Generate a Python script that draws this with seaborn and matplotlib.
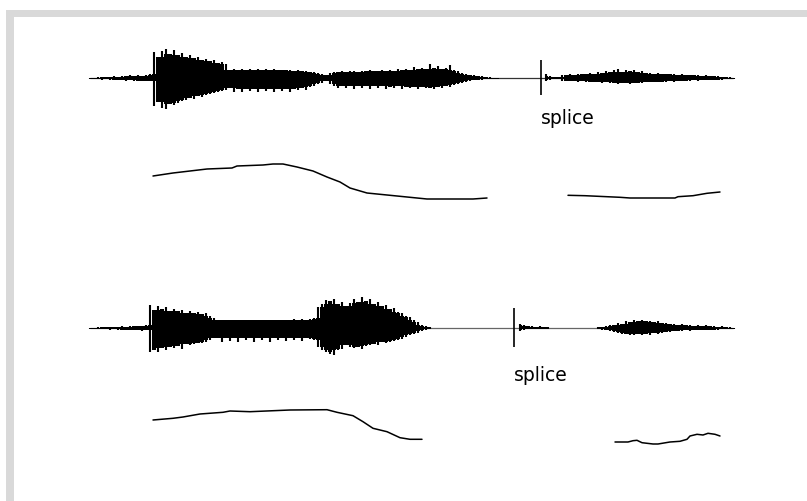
import numpy as np
import pandas as pd
import matplotlib
matplotlib.use("Agg")
import matplotlib.pyplot as plt
from matplotlib.patches import Rectangle
import seaborn as sns

# ---------------- data (time in ms, amplitude / pitch in relative units) ----------------
STEP = 4  # envelope sampling interval (ms)

# utterance 1, first part (starts at 0 ms)
w1a_start = 0
w1a_up = [.5, .5, 1, 1, 1.5, 1, 2, 1.5, 2.5, 2, 3, 2.5, 3, 2.5, 3.5, 4,
          26, 21, 27, 29, 24, 28, 23, 25, 21, 23, 20, 21, 18, 19, 17, 18, 15, 16, 14,
          8, 9, 8, 9, 8, 9, 8, 9, 8, 9, 8, 9, 8, 8, 8, 8, 7, 8, 7, 7, 6, 6, 5, 4, 3,
          5, 6, 6, 7, 6, 7, 7, 6, 7, 7, 8, 7, 7, 8, 7, 8, 7, 9, 8, 9, 8, 11, 9, 10, 9,
          14, 10, 12, 9, 10, 13, 8, 7, 5, 4, 3, 3, 2, 2, 1, 1.5, .5, .5]
w1a_dn = [.5, .5, 1, 1.5, 1, 2, 1.5, 2, 2, 3, 2, 3, 2.5, 3, 3, 3,
          28, 24, 30, 31, 26, 27, 25, 23, 22, 20, 21, 18, 19, 17, 16, 15, 14, 13, 12,
          10, 14, 11, 14, 11, 13, 11, 14, 11, 13, 11, 14, 11, 13, 11, 14, 11, 12, 10, 12, 9, 8, 6, 5, 3,
          6, 8, 10, 8, 10, 8, 11, 8, 10, 8, 11, 8, 10, 8, 11, 9, 10, 8, 11, 9, 10, 9, 11, 9, 10,
          10, 11, 9, 10, 8, 9, 7, 6, 5, 4, 3, 2, 2, 1.5, 1, 1, .5, .5]

# utterance 1, spliced part
w1b_start = 456
w1b_up = [4, 2, 1, 1, 3, 3, 4, 3, 4, 4, 4, 5, 4, 6, 5, 7, 6, 8, 9, 6, 8, 7, 8, 6, 7,
          5, 5, 4, 5, 4, 4, 4, 4, 3, 4, 3, 3, 3, 3, 2, 3, 2, 2, 2, 1.5, 1.5, 1, .5]
w1b_dn = [3, 2, 1, 1, 3, 3, 3, 3, 4, 3, 4, 4, 4, 4, 5, 4, 5, 5, 6, 5, 5, 6, 5, 5, 5,
          4, 4, 4, 4, 4, 4, 3, 4, 3, 3, 3, 3, 2, 3, 2, 2, 2, 2, 1.5, 1.5, 1, 1, .5]

# utterance 2, first part
w2a_start = 0
w2a_up = [.5, .5, 1, 1, 1.5, 1, 1.5, 1.5, 2, 1.5, 2, 2, 2.5, 2, 3,
          23, 18, 22, 19, 21, 17, 19, 17, 18, 15, 17, 15, 16, 14, 15, 12, 10,
          8, 8, 8, 8, 8, 8, 8, 8, 8, 8, 8, 8, 8, 8, 8, 8, 8, 8, 8, 9, 8, 9, 8, 9, 10,
          21, 24, 28, 27, 29, 24, 26, 22, 25, 29, 26, 31, 27, 29, 24, 26, 22, 23, 19, 20,
          16, 15, 12, 11, 8, 6, 3, 2, 1]
w2a_dn = [.5, .5, 1, 1, 1, 1.5, 1, 1.5, 1.5, 2, 2, 2, 2, 3, 2,
          24, 22, 24, 20, 22, 19, 20, 18, 21, 16, 17, 16, 15, 15, 14, 12, 10,
          10, 14, 10, 13, 10, 14, 10, 12, 10, 14, 10, 12, 10, 14, 10, 12, 10, 13, 10, 12, 10, 13, 10, 11, 12,
          19, 22, 24, 26, 27, 22, 21, 17, 19, 20, 19, 21, 18, 17, 16, 17, 14, 15, 14, 13,
          12, 11, 9, 7, 6, 5, 3, 2, 1]

# utterance 2, short burst after the splice
w2b_start = 430
w2b_up = [4, 3, 2, 2, 1.5, 2, 1.5, 1]
w2b_dn = [3, 1.5, 1, 1, 1, 1, 1, .5]

# utterance 2, final part
w2c_start = 508
w2c_up = [1, 1.5, 2, 3, 3, 5, 4, 7, 6, 8, 7, 8, 7, 7, 6, 7, 5, 5, 4, 4, 3, 4, 3, 3, 2,
          3, 2, 3, 2, 2, 1.5, 2, 1, 1, .5]
w2c_dn = [1, 1.5, 2, 3, 4, 5, 6, 6, 7, 7, 6, 7, 6, 7, 5, 6, 5, 4, 4, 3, 3, 3, 2, 3, 2,
          2, 2, 2, 2, 1.5, 1.5, 1, 1, 1, .5]

wave_end = 643
splice1_t, splice1_up, splice1_dn = 451, 18, 17
splice2_t, splice2_up, splice2_dn = 424, 20, 19
splice_label = "splice"

# pitch contours
p1a_t = [63, 83, 100, 117, 142, 147, 173, 183, 193, 207, 223, 237, 250, 260, 277, 297, 317, 337, 383, 397]
p1a_f = [34, 37, 39, 41, 42, 44, 45, 46, 46, 43, 39, 33, 28, 22, 17, 15, 13, 11, 11, 12]
p1b_t = [478, 495, 530, 540, 585, 588, 603, 617, 630]
p1b_f = [14.7, 14.3, 12.7, 12, 12, 13.3, 14.3, 16.7, 18]
p2a_t = [63, 83, 93, 110, 133, 140, 160, 200, 237, 247, 263, 273, 283, 297, 310, 320, 332]
p2a_f = [30, 31.7, 33, 36, 37.7, 39, 38.3, 40, 40.3, 37.7, 34.3, 28.3, 21.7, 18.3, 12.3, 10.7, 10.7]
p2b_t = [525, 538, 543, 547, 552, 563, 568, 580, 590, 597, 600, 607, 613, 618, 625, 630]
p2b_f = [8, 8, 9.3, 9.7, 7.3, 6, 6, 8, 8.7, 10.7, 14, 15.7, 15, 16.7, 15.7, 14]

# ---------------- figure ----------------
sns.set_theme(style="white")
plt.rcParams["font.family"] = ["DejaVu Sans"]

W, H = 807, 501
fig = plt.figure(figsize=(W / 100, H / 100), dpi=100)
fig.patch.set_facecolor("white")

# light grey frame (top and left)
frame_col = "#d9d9d9"
fig.add_artist(Rectangle((6 / W, 1 - 17 / H), 1 - 6 / W, 7 / H, transform=fig.transFigure,
                         color=frame_col, lw=0, zorder=0))
fig.add_artist(Rectangle((6 / W, 0), 8 / W, 1 - 10 / H, transform=fig.transFigure,
                         color=frame_col, lw=0, zorder=0))

X0 = 90  # pixel position of time 0


def band(top_px, bottom_px):
    return fig.add_axes([0, 1 - bottom_px / H, 1, (bottom_px - top_px) / H])


def setup(ax, ylim):
    ax.set_xlim(-X0, W - X0)
    ax.set_ylim(*ylim)
    ax.axis("off")
    ax.patch.set_alpha(0)


def core_of(v):
    # lower of each sample and its neighbours: the dense body of the oscillation
    prev = np.concatenate([v[:1], v[:-1]])
    nxt = np.concatenate([v[1:], v[-1:]])
    return np.minimum(v, np.minimum(prev, nxt))


def draw_wave(ax, start, up, dn):
    t = start + STEP * np.arange(len(up))
    up = np.asarray(up, float)
    dn = np.asarray(dn, float)
    ax.fill_between(t, -core_of(dn), core_of(up), step="mid", color="black", lw=0, zorder=3)
    # individual vertical strokes reaching each sampled peak
    ax.vlines(t, -dn, up, color="black", lw=1.5, zorder=3)


def draw_pitch(ax, t, f):
    df = pd.DataFrame({"t": t, "f": f})
    sns.lineplot(data=df, x="t", y="f", ax=ax, color="black", lw=1.1, sort=False,
                 estimator=None)


# waveform 1
ax1 = band(38, 118)
setup(ax1, (-40, 40))
ax1.plot([0, wave_end], [0, 0], color="#333333", lw=0.9, zorder=2)
draw_wave(ax1, w1a_start, w1a_up, w1a_dn)
draw_wave(ax1, w1b_start, w1b_up, w1b_dn)
ax1.vlines(splice1_t, -splice1_dn, splice1_up, color="black", lw=1.2, zorder=4)
ax1.text(splice1_t, -46, splice_label, fontsize=13.5, ha="left", va="baseline", color="black")

# pitch 1
ax2 = band(150, 210)
setup(ax2, (0, 60))
draw_pitch(ax2, p1a_t, p1a_f)
draw_pitch(ax2, p1b_t, p1b_f)

# waveform 2
ax3 = band(288, 368)
setup(ax3, (-40, 40))
ax3.plot([0, wave_end], [0, 0], color="#666666", lw=0.9, zorder=2)
draw_wave(ax3, w2a_start, w2a_up, w2a_dn)
draw_wave(ax3, w2b_start, w2b_up, w2b_dn)
draw_wave(ax3, w2c_start, w2c_up, w2c_dn)
ax3.vlines(splice2_t, -splice2_dn, splice2_up, color="black", lw=1.2, zorder=4)
ax3.text(splice2_t, -53, splice_label, fontsize=13.5, ha="left", va="baseline", color="black")

# pitch 2
ax4 = band(390, 450)
setup(ax4, (0, 60))
draw_pitch(ax4, p2a_t, p2a_f)
draw_pitch(ax4, p2b_t, p2b_f)

fig.savefig("out.png", dpi=100, facecolor="white")
